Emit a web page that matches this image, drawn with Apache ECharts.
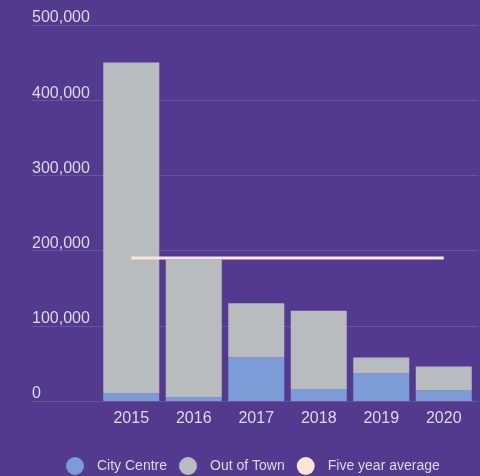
<!DOCTYPE html>
<html>
<head>
<meta charset="utf-8">
<script src="https://cdn.jsdelivr.net/npm/echarts@6/dist/echarts.min.js"></script>
<style>
html,body{margin:0;padding:0;background:#543a8f;}
#c{width:480px;height:476px;}
</style>
</head>
<body>
<div id="c"></div>
<script>
var categories = ['2015','2016','2017','2018','2019','2020'];
var cityCentre = [10000, 5000, 58000, 16000, 37000, 14000];
var outOfTown = [440000, 183000, 72000, 104000, 21000, 32000];
var fiveYearAverage = [190000, 190000, 190000, 190000, 190000, 190000];
var yTicks = {min: 0, max: 500000, interval: 100000};

var chart = echarts.init(document.getElementById('c'));
var labelColor = '#ddd8ea';
chart.setOption({
  backgroundColor: '#543a8f',
  animation: false,
  textStyle: {fontFamily: 'Liberation Sans, Arial, sans-serif'},
  grid: [
    {left: 32, right: 2, top: 25, bottom: 75},
    {left: 100, right: 5, top: 25, bottom: 75}
  ],
  xAxis: [
    {gridIndex: 0, type: 'value', show: false},
    {gridIndex: 1, type: 'category', data: categories,
     axisLine: {show: false}, axisTick: {show: false},
     axisLabel: {color: labelColor, fontSize: 16, margin: 10}}
  ],
  yAxis: [
    {gridIndex: 0, type: 'value', min: yTicks.min, max: yTicks.max, interval: yTicks.interval,
     axisLine: {show: false}, axisTick: {show: false},
     splitLine: {lineStyle: {color: 'rgba(255,255,255,0.13)', width: 1}},
     axisLabel: {inside: true, color: labelColor, fontSize: 16, align: 'left', verticalAlign: 'bottom',
       margin: 0, lineHeight: 14, padding: 0,
       formatter: function (v) { return v.toLocaleString('en-US'); }}},
    {gridIndex: 1, type: 'value', min: yTicks.min, max: yTicks.max, interval: yTicks.interval, show: false,
     splitLine: {show: false}}
  ],
  legend: {
    left: 61, top: 452, icon: 'circle', itemWidth: 18, itemHeight: 18, itemGap: 12,
    textStyle: {color: labelColor, fontSize: 14, padding: [0, 0, 0, 8]},
    data: ['City Centre', 'Out of Town', 'Five year average']
  },
  series: [
    {name: 'City Centre', type: 'bar', stack: 't', xAxisIndex: 1, yAxisIndex: 1,
     barWidth: 56, data: cityCentre, itemStyle: {color: '#7b9cd6'}},
    {name: 'Out of Town', type: 'bar', stack: 't', xAxisIndex: 1, yAxisIndex: 1,
     barWidth: 56, data: outOfTown, itemStyle: {color: '#b9bcbf'}},
    {name: 'Five year average', type: 'line', xAxisIndex: 1, yAxisIndex: 1, z: 5,
     data: fiveYearAverage, symbol: 'none', itemStyle: {color: '#fbe5d6'},
     lineStyle: {color: '#fbe5d6', width: 3}}
  ]
});
</script>
</body>
</html>
